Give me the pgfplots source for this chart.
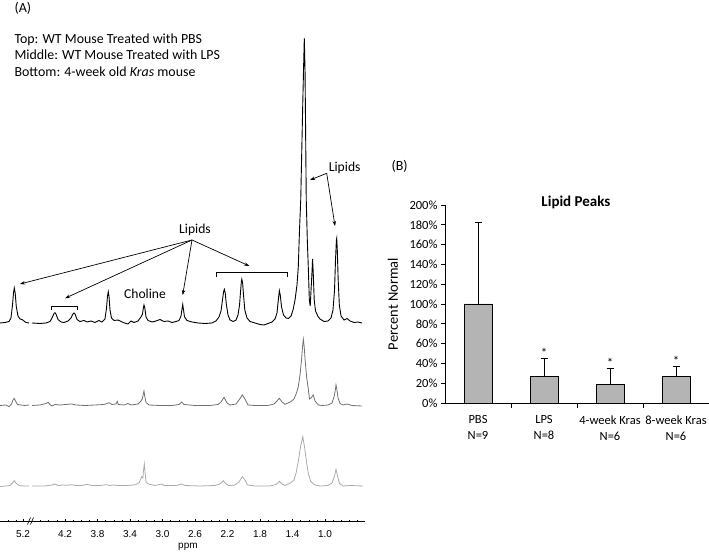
\documentclass[border=0pt]{standalone}
\usepackage{fontspec}
\setmainfont{Carlito}
\newfontfamily\axfont{Liberation Sans}
\usepackage{pgfplots}
\pgfplotsset{compat=1.18}
\usetikzlibrary{arrows.meta}
\definecolor{midgray}{RGB}{112,112,112}
\definecolor{lowgray}{RGB}{170,170,170}
\definecolor{barfill}{RGB}{180,180,180}

\begin{document}
\begin{tikzpicture}
\path[use as bounding box] (0pt,0pt) rectangle (709pt,553pt);

% ---- panel A: spectra
\begin{axis}[
    at={(0pt,32pt)}, anchor=south west,
    scale only axis, width=365pt, height=483pt,
    xmin=0.508, xmax=5.0, x dir=reverse,
    ymin=0, ymax=483,
    axis x line*=bottom, axis y line=none,
    axis line style={-, black, line width=0.6pt},
    clip=false,
    xtick={4.717,4.2,3.8,3.4,3.0,2.6,2.2,1.8,1.4,1.0},
    xticklabels={5.2,4.2,3.8,3.4,3.0,2.6,2.2,1.8,1.4,1.0},
    minor xtick={0.6,0.7,0.8,0.9,1.1,1.2,1.3,1.5,1.6,1.7,1.9,2.0,2.1,2.3,2.4,2.5,2.7,2.8,2.9,3.1,3.2,3.3,3.5,3.6,3.7,3.9,4.0,4.1,4.3,4.4,4.5,4.8,4.9},
    tick align=center, major tick length=3pt, minor tick length=2pt,
    tick style={black, line width=0.5pt},
    xticklabel style={font=\axfont\fontsize{10}{12}\selectfont, anchor=center, yshift=-12pt},
    xlabel={ppm},
    xlabel style={font=\axfont\fontsize{10}{12}\selectfont, at={(axis description cs:0.515,0)}, anchor=center, yshift=-26pt},
]
% top: WT + PBS
\addplot[black, line width=0.9pt] coordinates {
(5.000,198)(4.938,198.5)(4.889,199.5)(4.865,203)(4.846,216)(4.834,228)(4.824,233)
(4.813,228)(4.799,214)(4.778,205)(4.754,202)(4.729,201.5)(4.705,200)(4.680,198.5)(4.643,198)
};
\addplot[black, line width=0.9pt] coordinates {
(4.606,198)(4.508,197.5)(4.434,198)(4.385,199.5)(4.360,203)(4.335,207.5)(4.323,208.3)(4.311,207)
(4.286,201.5)(4.249,199)(4.212,198.5)(4.163,200)(4.126,203)(4.102,207)(4.089,208)(4.077,207)
(4.052,201.5)(4.015,199.5)(3.966,200.5)(3.929,199)(3.880,200)(3.831,198.5)(3.782,200.5)(3.745,199)
(3.708,202)(3.689,213)(3.677,225)(3.667,229.3)(3.658,224)(3.646,211)(3.628,203)(3.597,200.5)
(3.548,201)(3.498,199)(3.449,197.5)(3.425,197)(3.388,200)(3.351,198.5)(3.302,200)(3.265,204)
(3.246,207)(3.236,213)(3.228,216)(3.218,213)(3.203,204)(3.178,200.5)(3.129,199)(3.080,200)
(3.031,201.5)(2.982,199.5)(2.932,200)(2.883,198.5)(2.834,199.5)(2.797,200.5)(2.772,205)(2.760,212)
(2.751,216.5)(2.743,212)(2.729,204)(2.698,200.5)(2.637,199)(2.563,198)(2.477,197.5)(2.391,198)
(2.342,200)(2.305,204)(2.280,210)(2.262,221)(2.249,229)(2.239,231.7)(2.228,228)(2.215,217)
(2.194,206)(2.169,201)(2.132,199.5)(2.095,201)(2.071,206)(2.052,216)(2.040,229)(2.030,239)
(2.024,241.7)(2.014,238)(2.003,226)(1.987,211)(1.960,203)(1.923,199.5)(1.862,198)(1.800,196.5)
(1.751,196)(1.702,197.5)(1.652,199)(1.615,202)(1.591,208)(1.575,221)(1.562,230.3)(1.551,226)
(1.535,214)(1.511,206)(1.480,203)(1.449,202.5)(1.418,205)(1.394,211)(1.369,221)(1.345,236)
(1.329,254)(1.314,291)(1.299,321)(1.286,371)(1.273,421)(1.263,456)(1.255,482.7)(1.246,451)
(1.239,391)(1.231,321)(1.218,281)(1.206,254)(1.193,221)(1.182,215)(1.172,231)(1.162,246)
(1.153,262)(1.144,246)(1.133,221)(1.117,210)(1.086,204.5)(1.062,202)(1.012,199.5)(0.963,200)
(0.926,203)(0.902,211)(0.883,231)(0.871,261)(0.860,281)(0.856,282.7)(0.849,271)(0.838,241)
(0.824,216)(0.803,205)(0.766,201)(0.729,202.5)(0.692,200)(0.643,198.5)(0.594,199)(0.545,198)
};
% middle: WT + LPS
\addplot[midgray, line width=0.8pt] coordinates {
(5.000,115.5)(4.926,116)(4.889,114.3)(4.858,117)(4.840,121)(4.824,122.7)(4.809,120)
(4.785,116.5)(4.742,116)(4.692,115.5)(4.643,116)
};
\addplot[midgray, line width=0.8pt] coordinates {
(4.606,115.5)(4.508,116)(4.434,117.5)(4.406,118.7)(4.385,116.5)(4.360,115)(4.323,116.5)(4.262,116)
(4.188,116.5)(4.118,117)(4.065,116)(3.954,115.5)(3.831,116)(3.720,116.5)(3.658,118.3)(3.622,116.5)
(3.572,117)(3.556,119.5)(3.544,116.5)(3.474,116)(3.425,117.5)(3.388,116)(3.302,117)(3.265,120)
(3.249,122)(3.236,127)(3.228,130)(3.219,125)(3.203,118.5)(3.166,116)(3.031,115.5)(2.883,115.5)
(2.797,116.5)(2.764,119)(2.735,116.5)(2.600,115.5)(2.415,115.5)(2.317,116.5)(2.280,119)(2.243,123.7)
(2.206,118)(2.169,116)(2.095,117)(2.058,121)(2.018,126)(1.985,122)(1.948,116)(1.862,115.5)
(1.702,115.5)(1.628,117)(1.591,120)(1.562,122.7)(1.529,119)(1.492,116.7)(1.455,118)(1.418,119.5)
(1.382,122)(1.351,128)(1.329,134.3)(1.308,146)(1.289,161)(1.277,174)(1.267,181.7)(1.256,174)
(1.244,160)(1.225,143)(1.209,134)(1.191,122)(1.172,123)(1.144,126)(1.123,120)(1.082,116)
(1.037,115.5)(0.963,116)(0.914,118)(0.886,125)(0.871,132)(0.865,136)(0.855,132)(0.840,123)
(0.815,117.5)(0.778,116)(0.729,117)(0.668,115.5)(0.548,115)
};
% bottom: 4-week Kras
\addplot[lowgray, line width=0.8pt] coordinates {
(5.000,34.5)(4.926,35)(4.877,35.5)(4.846,38)(4.824,40.3)(4.803,38)(4.766,35.5)(4.705,35)(4.643,35)
};
\addplot[lowgray, line width=0.8pt] coordinates {
(4.606,35)(4.446,35)(4.360,36)(4.323,37)(4.286,35.5)(4.225,36)(4.175,35.7)(4.118,36.3)
(4.065,35.5)(3.991,35.5)(3.933,36.7)(3.868,35.5)(3.769,35.5)(3.687,36.3)(3.646,35.5)(3.606,36)
(3.548,35.5)(3.449,35.5)(3.351,36)(3.289,38)(3.256,44.3)(3.242,43)(3.233,51)(3.224,57)
(3.215,49)(3.203,39)(3.175,37)(3.092,35.5)(3.010,37)(2.982,35.5)(2.834,35.5)(2.764,37)
(2.723,35.5)(2.538,35)(2.354,35.5)(2.292,37)(2.252,40.3)(2.218,37)(2.182,35.5)(2.108,36)
(2.058,39)(2.018,44.3)(1.985,41)(1.954,36)(1.862,35)(1.677,35)(1.603,36.5)(1.562,39.7)
(1.529,37)(1.492,35.5)(1.431,37.7)(1.382,41)(1.357,47.7)(1.326,61)(1.302,74)(1.274,84.3)
(1.252,74)(1.228,59)(1.206,47.7)(1.178,40)(1.154,38)(1.123,36)(1.062,35)(0.963,35.5)
(0.914,38)(0.883,45)(0.865,51.7)(0.846,45)(0.822,37.5)(0.778,35)(0.692,35.5)(0.532,35)
};
\end{axis}

% axis break mark
\draw[black, line width=0.6pt] (27.5pt,28.5pt) -- (30.5pt,35.5pt);
\draw[black, line width=0.6pt] (30.5pt,28.5pt) -- (33.5pt,35.5pt);

% panel A annotations
\node[anchor=base west, font=\fontsize{14}{16}\selectfont] at (11pt,540.5pt) {(A)};
\node[anchor=base west, font=\fontsize{13.9}{16}\selectfont] at (11pt,509.5pt) {Top: WT Mouse Treated with PBS};
\node[anchor=base west, font=\fontsize{13.9}{16}\selectfont] at (11pt,493pt) {Middle: WT Mouse Treated with LPS};
\node[anchor=base west, font=\fontsize{13.9}{16}\selectfont] at (11pt,476.5pt) {Bottom: 4-week old \textit{Kras} mouse};

\node[font=\fontsize{13.6}{16}\selectfont] at (195pt,323pt) {Lipids};
\node[font=\fontsize{13.6}{16}\selectfont] at (145pt,259pt) {Choline};
\node[font=\fontsize{13.6}{16}\selectfont] at (344.7pt,384.7pt) {Lipids};

\begin{scope}[black, line width=0.7pt, -{Stealth[length=5pt,width=3.5pt]}]
\draw (192pt,313pt) -- (20pt,269pt);
\draw (192pt,313pt) -- (65pt,254.7pt);
\draw (192pt,313pt) -- (182.7pt,258pt);
\draw (192pt,313pt) -- (249.3pt,287pt);
\draw (326.7pt,379.7pt) -- (310pt,373pt);
\draw (326.7pt,379.7pt) -- (335pt,327pt);
\end{scope}
\draw[black, line width=0.7pt] (51pt,243pt) -- (51pt,247pt) -- (77pt,247pt) -- (77pt,243pt);
\draw[black, line width=0.7pt] (216.7pt,276.3pt) -- (216.7pt,280.3pt) -- (287.3pt,280.3pt) -- (287.3pt,276.3pt);

% ---- panel B: bars
\node[anchor=base west, font=\fontsize{14}{16}\selectfont] at (388pt,382pt) {(B)};
\begin{axis}[
    at={(445pt,150pt)}, anchor=south west,
    scale only axis, width=264pt, height=198pt,
    xmin=-0.5, xmax=3.5, ymin=0, ymax=200,
    axis x line*=bottom, axis y line*=left,
    axis line style={-, black, line width=0.8pt},
    /pgf/number format/assume math mode=true,
    xtick={0,1,2,3},
    xticklabels={{PBS\\N=9},{LPS\\N=8},{4-week Kras\\N=6},{8-week Kras\\N=6}},
    xticklabel style={align=center, font=\fontsize{12.5}{16}\selectfont, yshift=-5pt},
    major x tick style={draw=none},
    minor xtick={0.5,1.5,2.5,3.5},
    ytick={0,20,...,200},
    yticklabel={\pgfmathprintnumber{\tick}\%},
    yticklabel style={font=\fontsize{12.5}{14}\selectfont},
    tick align=outside, major tick length=4pt, minor tick length=5pt,
    tick style={black, line width=0.8pt},
    ylabel={Percent Normal},
    ylabel style={at={(axis description cs:-0.197,0.5)}, anchor=center, font=\fontsize{14.5}{16}\selectfont},
    title={\textbf{Lipid Peaks}},
    title style={at={(axis description cs:0.496,1)}, anchor=center, yshift=-3pt, font=\fontsize{15}{17}\selectfont},
    clip=false,
]
\addplot[ybar, bar width=28pt, fill=barfill, draw=black, line width=0.8pt,
    error bars/.cd, y dir=plus, y explicit,
    error bar style={black, line width=0.8pt},
    error mark options={black, rotate=90, mark size=3.5pt, line width=0.8pt}]
coordinates {
    (0,100)  +- (0,82)
    (1,26.6) +- (0,18.9)
    (2,18.9) +- (0,16.5)
    (3,26.6) +- (0,10.1)
};
\addplot[draw=none, mark=none, nodes near coords={*},
    every node near coord/.style={anchor=center, font=\fontsize{13}{14}\selectfont}]
coordinates {(1,51) (2,40.5) (3,43)};
\end{axis}
\end{tikzpicture}
\end{document}
